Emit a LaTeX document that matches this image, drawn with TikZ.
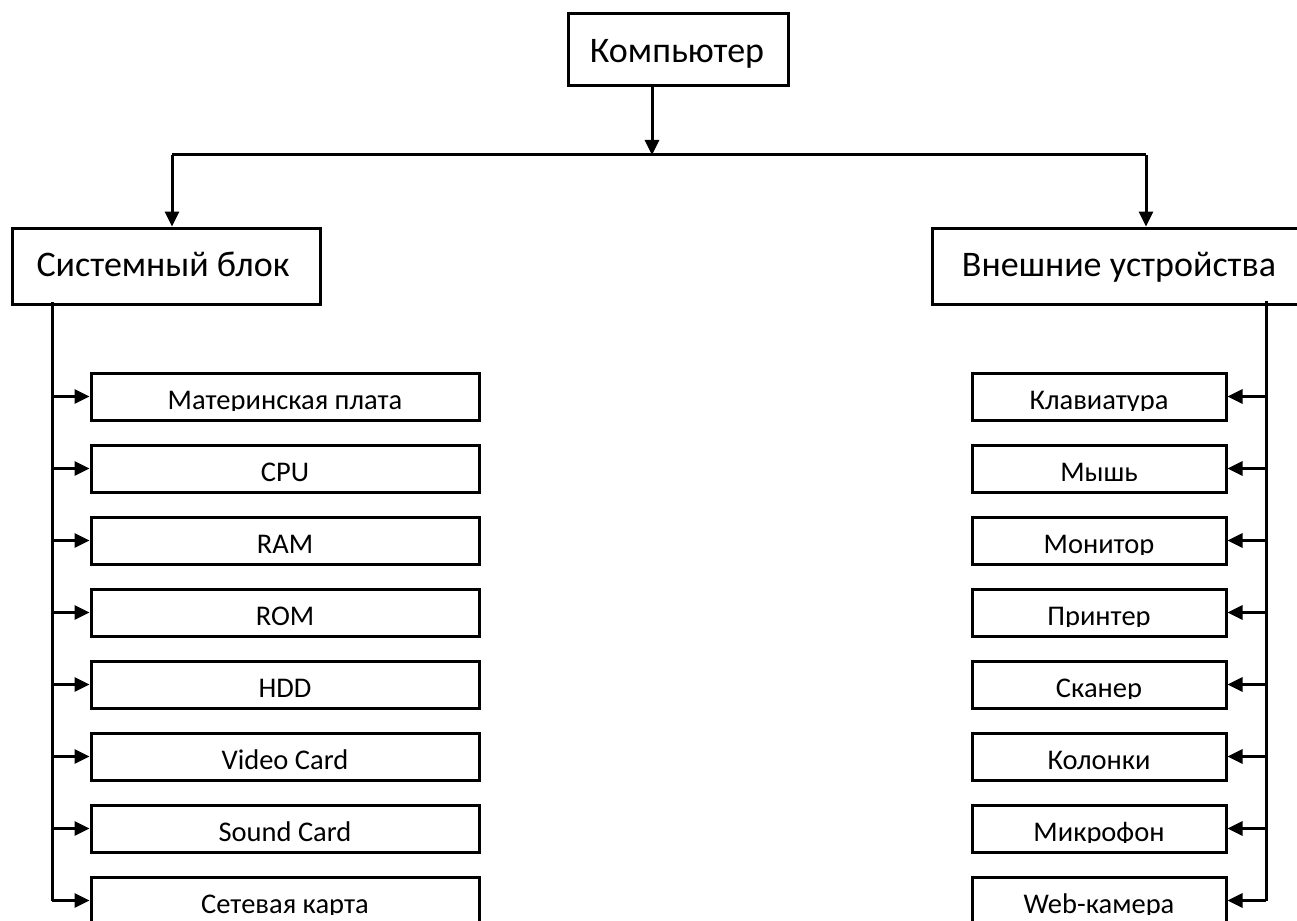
\documentclass[tikz,border=0pt]{standalone}
\usepackage{fontspec}
\setmainfont{Carlito}
\usetikzlibrary{arrows.meta,calc}

\tikzset{
  line/.style={line width=3pt},
  arr/.style={line width=3pt, -{Triangle[length=15pt,width=14pt]}},
  bigbox/.style={draw, line width=3pt, inner sep=0pt, minimum height=76pt},
  smallbox/.style={draw, line width=3pt, inner sep=0pt, minimum height=47pt},
  bigtext/.style={anchor=base, inner sep=0pt, font=\fontsize{36}{40}\selectfont},
  smalltext/.style={anchor=base, inner sep=0pt, font=\fontsize{28.5}{32}\selectfont},
}

\begin{document}
\begin{tikzpicture}[x=1pt, y=-1pt]
  \useasboundingbox (0,0) rectangle (1297,920);
  \clip (0,0) rectangle (1297,920);

  % top level
  \node[bigbox, minimum width=220pt, minimum height=72pt] (pc) at (678,50) {};
  \node[bigtext] (pct) at (677,63) {Компьютер};

  % two main groups
  \node[bigbox, minimum width=308pt] (sb) at (166,266) {};
  \node[bigtext] (sbt) at (163,276) {Системный блок};
  \node[bigbox, minimum width=374pt] (ext) at (1119,266) {};
  \node[bigtext] (extt) at (1119,276) {Внешние устройства};

  % branching from the top box
  \coordinate (j) at (652,155);
  \coordinate (jl) at (172,155);
  \coordinate (jr) at (1146,155);
  \draw[arr] (j |- pc.south) -- (j);
  \draw[line] (jl) -- (jr);
  \draw[arr] (jl) -- (jl |- sb.north);
  \draw[arr] (jr) -- (jr |- ext.north);

  % components of the system unit
  \foreach \t [count=\i] in {Материнская плата, CPU, RAM, ROM, HDD, Video Card, Sound Card, Сетевая карта} {
    \pgfmathsetmacro\yt{373+72*(\i-1)}
    \node[smallbox, minimum width=388pt] (l\i) at (285,{\yt+23.5}) {};
    \begin{scope}
      \clip ($(l\i.south west)+(0,-11)$) rectangle (l\i.north east);
      \node[smalltext] (l\i t) at (285,{\yt+36}) {\t};
    \end{scope}
    \coordinate (lb\i) at (52,{\yt+23.5});
    \draw[arr] (lb\i) -- (l\i.west);
  }
  \coordinate (lv) at (52,302);
  \draw[line] (lv) -- (lb8);

  % external devices
  \foreach \t [count=\i] in {Клавиатура, Мышь, Монитор, Принтер, Сканер, Колонки, Микрофон, Web-камера} {
    \pgfmathsetmacro\yt{373+72*(\i-1)}
    \node[smallbox, minimum width=254pt] (r\i) at (1099,{\yt+23.5}) {};
    \begin{scope}
      \clip ($(r\i.south west)+(0,-11)$) rectangle (r\i.north east);
      \node[smalltext] (r\i t) at (1099,{\yt+36}) {\t};
    \end{scope}
    \coordinate (rb\i) at (1266,{\yt+23.5});
    \draw[arr] (rb\i) -- (r\i.east);
  }
  \coordinate (rv) at (1266,301);
  \draw[line] (rv) -- (rb8);
\end{tikzpicture}
\end{document}
